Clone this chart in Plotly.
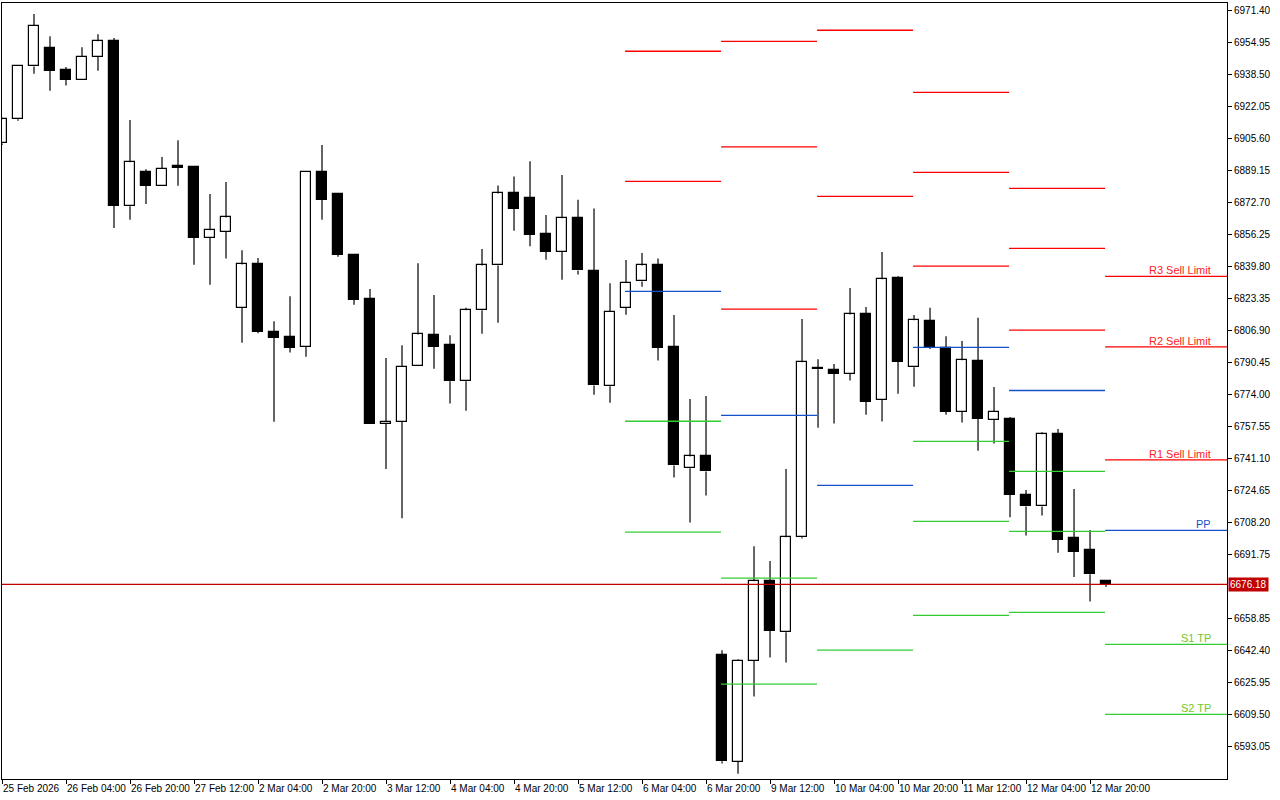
"""4h candle chart with daily pivot levels, drawn in the style of a trading terminal."""

import plotly.graph_objects as go

# ── Candles (4h bars, index 0..69) ────────────────────────────────────────────
opens = [6902.8, 6915.2, 6942.4, 6951.7, 6940.4, 6935.5, 6947.5, 6955.5, 6870.5, 6887.9,
         6881.1, 6890.6, 6890.5, 6854.3, 6857.5, 6818.4, 6840.6, 6805.7, 6803.1, 6798.4,
         6887.9, 6876.6, 6845.3, 6822.6, 6758.8, 6759.8, 6788.6, 6804.2, 6799.0, 6780.5,
         6817.0, 6840.1, 6877.1, 6874.6, 6856.4, 6847.2, 6864.3, 6837.3, 6778.0, 6818.4,
         6831.9, 6840.1, 6798.0, 6735.8, 6741.9, 6639.6, 6585.0, 6636.7, 6677.7, 6651.5,
         6700.4, 6786.9, 6786.6, 6784.5, 6814.9, 6771.0, 6833.7, 6787.7, 6811.4, 6797.7,
         6765.0, 6791.0, 6760.9, 6761.4, 6722.3, 6716.2, 6753.3, 6699.9, 6693.6, 6677.7]
highs = [6916.0, 6942.4, 6969.4, 6957.9, 6942.1, 6952.3, 6959.0, 6957.0, 6914.8, 6889.6,
         6895.9, 6904.5, 6890.5, 6876.8, 6883.0, 6847.9, 6843.9, 6811.4, 6824.3, 6887.9,
         6902.0, 6876.6, 6845.3, 6828.0, 6792.5, 6799.1, 6841.2, 6824.9, 6804.2, 6818.4,
         6848.6, 6881.2, 6885.8, 6893.7, 6866.0, 6886.6, 6873.8, 6869.4, 6831.0, 6842.9,
         6846.5, 6843.6, 6814.6, 6771.4, 6773.0, 6642.3, 6637.6, 6695.8, 6688.2, 6735.4,
         6812.6, 6791.9, 6789.4, 6828.5, 6818.7, 6847.0, 6834.5, 6814.6, 6818.3, 6803.7,
         6801.3, 6813.2, 6777.6, 6762.2, 6724.6, 6754.4, 6756.0, 6725.2, 6704.1, 6678.4]
lows = [6902.0, 6914.5, 6938.6, 6929.9, 6932.6, 6935.5, 6940.2, 6859.4, 6863.6, 6871.7,
        6881.1, 6881.1, 6840.4, 6830.2, 6843.6, 6800.3, 6805.2, 6759.8, 6795.3, 6793.2,
        6863.6, 6844.6, 6819.9, 6758.8, 6735.5, 6710.1, 6788.6, 6787.0, 6769.1, 6765.4,
        6805.0, 6810.6, 6857.9, 6849.9, 6843.0, 6832.7, 6835.4, 6773.6, 6769.5, 6814.7,
        6829.2, 6791.2, 6731.1, 6708.0, 6721.8, 6584.1, 6578.8, 6618.5, 6638.5, 6636.0,
        6699.7, 6756.7, 6758.8, 6780.9, 6763.4, 6759.9, 6774.2, 6777.7, 6797.2, 6763.4,
        6759.3, 6744.8, 6748.5, 6710.7, 6701.3, 6711.5, 6692.4, 6680.0, 6667.3, 6674.9]
closes = [6915.2, 6942.4, 6963.4, 6940.2, 6935.5, 6947.5, 6955.3, 6870.9, 6893.1, 6881.1,
          6889.9, 6890.4, 6854.3, 6858.2, 6864.8, 6840.6, 6806.1, 6802.9, 6797.7, 6887.9,
          6873.8, 6845.6, 6822.4, 6758.8, 6759.8, 6788.1, 6804.6, 6798.4, 6780.5, 6817.0,
          6840.1, 6877.1, 6869.2, 6855.8, 6847.2, 6864.3, 6837.5, 6778.4, 6816.4, 6831.2,
          6840.1, 6797.8, 6737.3, 6741.9, 6734.2, 6585.2, 6636.7, 6677.7, 6652.4, 6700.4,
          6790.3, 6786.7, 6784.5, 6814.9, 6770.1, 6833.0, 6790.6, 6811.9, 6798.1, 6765.0,
          6791.4, 6761.3, 6765.0, 6722.3, 6716.2, 6753.3, 6699.1, 6693.0, 6681.3, 6676.18]

last_price = 6676.18

# ── Time axis labels (every 4th bar) ─────────────────────────────────────────
time_tick_bars = list(range(0, 69, 4))
time_tick_labels = ["25 Feb 2026", "26 Feb 04:00", "26 Feb 20:00", "27 Feb 12:00",
                    "2 Mar 04:00", "2 Mar 20:00", "3 Mar 12:00", "4 Mar 04:00",
                    "4 Mar 20:00", "5 Mar 12:00", "6 Mar 04:00", "6 Mar 20:00",
                    "9 Mar 12:00", "10 Mar 04:00", "10 Mar 20:00", "11 Mar 12:00",
                    "12 Mar 04:00", "12 Mar 20:00"]

# 6675.30 sits under the last-price tag, so it is not shown
price_ticks = [6971.40, 6954.95, 6938.50, 6922.05, 6905.60, 6889.15, 6872.70, 6856.25,
               6839.80, 6823.35, 6806.90, 6790.45, 6774.00, 6757.55, 6741.10, 6724.65,
               6708.20, 6691.75, 6658.85, 6642.40, 6625.95, 6609.50, 6593.05]

# ── Daily pivot levels: first bar of each day, then the level values ──────────
pivot_day_start = [39, 45, 51, 57, 63, 69]
pivot_r = [[6950.2, 6883.3],
           [6955.3, 6901.0, 6817.6],
           [6961.0, 6875.6],
           [6929.1, 6887.9, 6839.7],
           [6879.7, 6848.9, 6806.8],
           [6834.5, 6798.2, 6740.1]]
pivot_pp = [6826.8, 6763.0, 6727.0, 6798.0, 6775.8, 6703.9]
pivot_s = [[6760.0, 6703.0],
           [6679.4, 6624.9],
           [6642.3],
           [6749.7, 6708.5, 6660.2],
           [6734.2, 6703.4, 6661.8],
           [6645.3, 6609.3]]

current_labels = ["R3 Sell Limit", "R2 Sell Limit", "R1 Sell Limit", "PP", "S1 TP", "S2 TP"]

X_MAX = 76.56
RED, BLUE, GREEN = "#ff0000", "#1450c8", "#33cc33"
FONT = "Liberation Sans"

fig = go.Figure()

n = len(opens)
bars = list(range(n))

# wicks above and below the body
wx, wy = [], []
for k in bars:
    top, bot = max(opens[k], closes[k]), min(opens[k], closes[k])
    wx += [k, k, None, k, k, None]
    wy += [highs[k], top, None, bot, lows[k], None]
fig.add_trace(go.Scatter(x=wx, y=wy, mode="lines", line=dict(color="black", width=1.2),
                         hoverinfo="skip", showlegend=False))

# bodies
base = [min(o, c) for o, c in zip(opens, closes)]
height = [max(abs(c - o), 0.6) for o, c in zip(opens, closes)]
colors = ["white" if c >= o else "black" for o, c in zip(opens, closes)]
fig.add_trace(go.Bar(x=bars, y=height, base=base, width=0.64,
                     marker=dict(color=colors, line=dict(color="black", width=1.2)),
                     showlegend=False, hoverinfo="skip"))


def seg_trace(levels_per_day, color, width=1.3):
    xs, ys = [], []
    for i, ks in enumerate(pivot_day_start):
        x0 = ks - 0.06
        x1 = X_MAX if i == len(pivot_day_start) - 1 else ks + 5.94
        for v in levels_per_day[i]:
            xs += [x0, x1, None]
            ys += [v, v, None]
    return go.Scatter(x=xs, y=ys, mode="lines", line=dict(color=color, width=width),
                      hoverinfo="skip", showlegend=False)


fig.add_trace(seg_trace(pivot_r, RED))
fig.add_trace(seg_trace([[p] for p in pivot_pp], BLUE))
fig.add_trace(seg_trace(pivot_s, GREEN))

# current price line
fig.add_shape(type="line", xref="paper", x0=0, x1=1, y0=last_price, y1=last_price,
              line=dict(color="#c00000", width=1.2))
fig.add_annotation(xref="paper", x=1.001, y=last_price, xanchor="left", yanchor="middle",
                   text=f"{last_price:.2f}", showarrow=False, bgcolor="#c00000",
                   font=dict(family=FONT, size=10, color="white"), borderpad=1)

# labels on the current day's levels
cur_levels = pivot_r[-1] + [pivot_pp[-1]] + pivot_s[-1]
label_colors = ["#ff2020"] * 3 + [BLUE] + ["#70c828"] * 2
for txt, lvl, col in zip(current_labels, cur_levels, label_colors):
    fig.add_annotation(x=75.7, y=lvl, text=txt, showarrow=False, xanchor="right",
                       yanchor="bottom", yshift=-2,
                       font=dict(family=FONT, size=11, color=col))

fig.update_layout(
    width=1280, height=800,
    plot_bgcolor="white", paper_bgcolor="white",
    margin=dict(l=2, r=53, t=3, b=21, autoexpand=False),
    bargap=0, showlegend=False,
    font=dict(family=FONT, size=10, color="black"),
    xaxis=dict(range=[0, X_MAX], showgrid=False, zeroline=False, automargin=False,
               tickmode="array", tickvals=time_tick_bars, ticktext=time_tick_labels,
               tickangle=0, ticks="outside", ticklen=4, tickcolor="black",
               ticklabelposition="outside right",
               showline=True, linecolor="black", mirror=True,
               tickfont=dict(family=FONT, size=10)),
    yaxis=dict(range=[6576.1, 6975.0], side="right", showgrid=False, zeroline=False,
               automargin=False, tickmode="array", tickvals=price_ticks,
               tickformat=".2f",
               ticks="outside", ticklen=4, tickcolor="black",
               showline=True, linecolor="black", mirror=True,
               tickfont=dict(family=FONT, size=10)),
)

# page body margin would push the fixed-size chart off the window edge
fig.write_html("out.html", config={"displayModeBar": False},
               post_script="document.body.style.margin='0';document.body.style.overflow='hidden';")
